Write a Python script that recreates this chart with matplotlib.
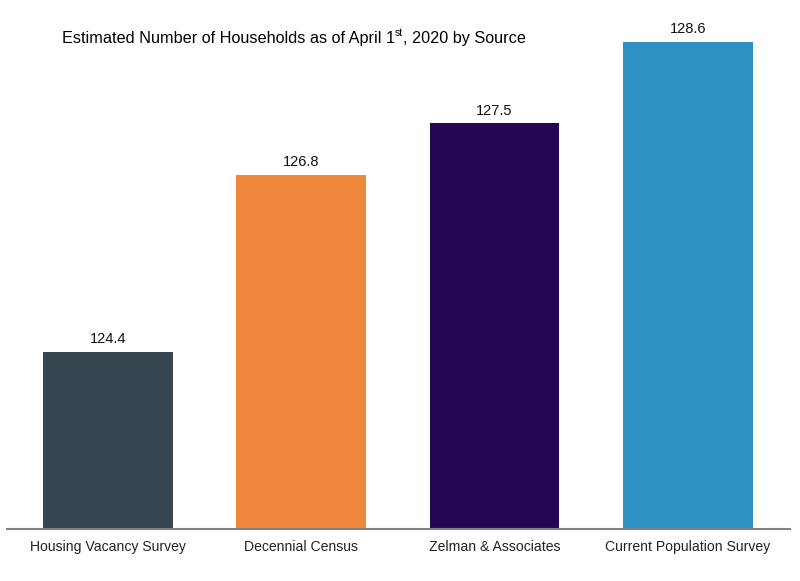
import matplotlib
matplotlib.use("Agg")
import matplotlib.pyplot as plt

# data
sources = ["Housing Vacancy Survey", "Decennial Census", "Zelman & Associates", "Current Population Survey"]
households = [124.4, 126.8, 127.5, 128.6]
colors = ["#364651", "#ef873d", "#250655", "#2d91c2"]

plt.rcParams['font.family'] = ['Liberation Sans', 'DejaVu Sans']

fig = plt.figure(figsize=(8, 5.81), dpi=100)
ax = fig.add_axes([0.009, 0.0895, 0.979, 0.889])

x = range(len(sources))
bars = ax.bar(x, households, width=0.67, color=colors)
for b, v in zip(bars, households):
    ax.annotate("%.1f" % v, (b.get_x() + b.get_width() / 2, v), xytext=(0, 4),
                textcoords="offset points", ha="center", va="bottom", fontsize=10.5, color="#111111")

ax.set_ylim(122, 129)
ax.set_xlim(-0.52, 3.53)
ax.set_xticks(list(x))
ax.set_xticklabels(sources, fontsize=10.1, color="#222222")
ax.tick_params(axis="x", length=0, pad=8)
ax.set_yticks([])
for s in ["top", "right", "left"]:
    ax.spines[s].set_visible(False)
ax.spines["bottom"].set_color("#808080")
ax.spines["bottom"].set_linewidth(1.5)

# title with superscript "st"
t1 = fig.text(62 / 800, 1 - 38 / 581, "Estimated Number of Households as of April 1", fontsize=11.7, va="center", ha="left")
fig.canvas.draw()
r = fig.canvas.get_renderer()
bb = t1.get_window_extent(r)
t2 = fig.text(bb.x1 / 800, 1 - 33 / 581, "st", fontsize=7.5, va="center", ha="left")
bb2 = t2.get_window_extent(r)
fig.text(bb2.x1 / 800, 1 - 38 / 581, ", 2020 by Source", fontsize=11.7, va="center", ha="left")

fig.savefig("out.png", dpi=100)
